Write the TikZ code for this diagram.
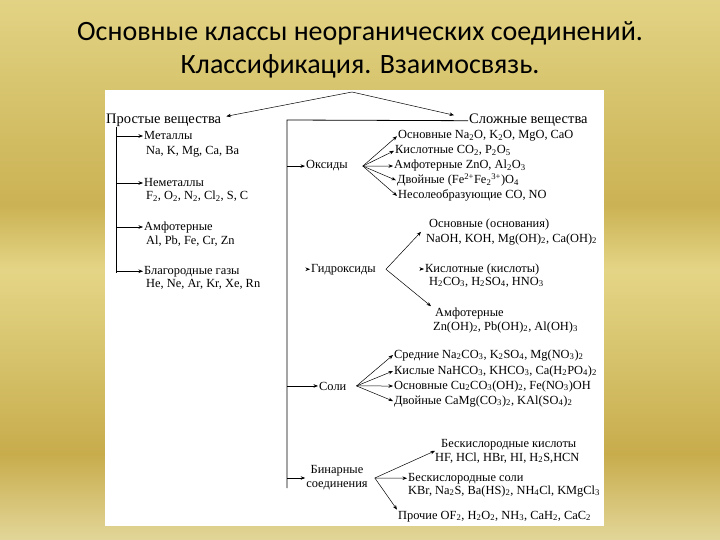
\documentclass[tikz,border=0pt]{standalone}
\usepackage{fontspec}
\setmainfont{Liberation Serif}
\newfontfamily\titlefont{Carlito}
\usetikzlibrary{arrows.meta,positioning}

\newcommand\ix[1]{\textsubscript{#1}}
\newcommand\ux[1]{\textsuperscript{#1}}

\definecolor{goldA}{RGB}{226,214,152}
\definecolor{goldB}{RGB}{200,172,76}
\definecolor{goldC}{RGB}{214,195,108}
\definecolor{goldD}{RGB}{228,213,134}
\definecolor{goldE}{RGB}{203,178,84}
\definecolor{goldF}{RGB}{226,211,132}
\pgfdeclareverticalshading{goldbg}{100bp}{color(0bp)=(goldA); color(25bp)=(goldA);
  color(33bp)=(goldB); color(42bp)=(goldC); color(50bp)=(goldD); color(56bp)=(goldE);
  color(66bp)=(goldC); color(75bp)=(goldF); color(100bp)=(goldF)}

\tikzset{
  lbl/.style={anchor=base west, inner sep=1pt, font=\fontsize{12.4}{14}\selectfont},
  head/.style={anchor=base west, inner sep=1pt, font=\fontsize{14.5}{16}\selectfont},
  ttl/.style={font=\titlefont\fontsize{28}{32}\selectfont},
  arr/.style={-{Stealth[length=4.5pt,width=3.5pt]}, line width=0.5pt},
  trunk/.style={line width=0.8pt},
}

\begin{document}
\begin{tikzpicture}[x=1pt,y=-1pt]
    \useasboundingbox (0,0) rectangle (720,540);
    \shade[shading=goldbg] (0,0) rectangle (720,540);
    \fill[white] (105,90) rectangle (604,526);

    % title
    \node[ttl] (title1) at (360,33) {Основные классы неорганических соединений.};
    \node[ttl] (title2) at (360,66) {Классификация. Взаимосвязь.};

    % two kinds of substances
    \coordinate (apex) at (352,92);
    \node[head] (simple) at (105,124) {Простые вещества};
    \node[head] (complex) at (468,124) {Сложные вещества};
    \draw[arr] (apex) -- ([xshift=4pt,yshift=-3pt]simple.north east);
    \draw[arr] (apex) -- ([xshift=-14pt,yshift=-2pt]complex.north west);

    % simple substances
    \node[lbl] (met) at (143,140) {Металлы};
    \node[lbl] (met2) at (145,155) {Na, K, Mg, Ca, Ba};
    \node[lbl] (nonmet) at (143,187) {Неметаллы};
    \node[lbl] (nonmet2) at (145,200) {F\ix{2}, O\ix{2}, N\ix{2}, Cl\ix{2}, S, C};
    \node[lbl] (amph) at (143,230) {Амфотерные};
    \node[lbl] (amph2) at (145,244) {Al, Pb, Fe, Cr, Zn};
    \node[lbl] (noble) at (143,274) {Благородные газы};
    \node[lbl] (noble2) at (145,287) {He, Ne, Ar, Kr, Xe, Rn};

    \coordinate (ltop) at (116,127);
    \draw[trunk] (ltop) -- ([yshift=-2pt]ltop |- noble.west);
    \foreach \n in {met,nonmet,amph,noble}
        \draw[arr] (ltop |- \n.west) -- (\n.west);

    % complex substances
    \node[lbl] (oxd) at (305,169) {Оксиды};
    \node[lbl] (hyd) at (310,272) {Гидроксиды};
    \node[lbl] (salt) at (318,390) {Соли};
    \node[lbl, align=center, anchor=center] (bin) at (337,478) {Бинарные\\соединения};

    \coordinate (rtop) at (287,120);
    \draw[trunk] (complex.west) -- (rtop) -- (287,488);
    \foreach \n in {oxd,salt,bin}
        \draw[arr] (rtop |- \n.west) -- (\n.west);
    \draw[arr] ([xshift=-3pt]hyd.west) -- (hyd.west);

    % oxides
    \node[lbl] (ox1) at (397,139) {Основные Na\ix{2}O, K\ix{2}O, MgO, CaO};
    \node[lbl] (ox2) at (394,154) {Кислотные CO\ix{2}, P\ix{2}O\ix{5}};
    \node[lbl] (ox3) at (393,169) {Амфотерные ZnO, Al\ix{2}O\ix{3}};
    \node[lbl] (ox4) at (396,184) {Двойные (Fe\ux{2+}Fe\ix{2}\ux{3+})O\ix{4}};
    \node[lbl] (ox5) at (397,199) {Несолеобразующие CO, NO};
    \coordinate (oxf) at ([xshift=14pt]oxd.east);
    \foreach \n in {ox1,ox2,ox3,ox4,ox5}
        \draw[arr] (oxf) -- (\n.west);

    % hydroxides
    \node[lbl] (hb1) at (428,228) {Основные (основания)};
    \node[lbl] (hb2) at (425,242) {NaOH, KOH, Mg(OH)\ix{2}, Ca(OH)\ix{2}};
    \node[lbl] (ha1) at (424,272) {Кислотные (кислоты)};
    \node[lbl] (ha2) at (428,285) {H\ix{2}CO\ix{3}, H\ix{2}SO\ix{4}, HNO\ix{3}};
    \node[lbl] (hm1) at (434,316) {Амфотерные};
    \node[lbl] (hm2) at (432,330) {Zn(OH)\ix{2}, Pb(OH)\ix{2}, Al(OH)\ix{3}};
    \coordinate (hyf) at ([xshift=9pt]hyd.east);
    \draw[arr] (hyf) -- ([xshift=-7pt]hb1.south west);
    \draw[arr] (hyf) -- ([xshift=-3pt]hm1.north west);
    \draw[arr] ([xshift=-4pt]ha1.west) -- (ha1.west);

    % salts
    \node[lbl] (s1) at (393,358) {Средние Na\ix{2}CO\ix{3}, K\ix{2}SO\ix{4}, Mg(NO\ix{3})\ix{2}};
    \node[lbl] (s2) at (393,374) {Кислые NaHCO\ix{3}, KHCO\ix{3}, Ca(H\ix{2}PO\ix{4})\ix{2}};
    \node[lbl] (s3) at (393,389) {Основные Cu\ix{2}CO\ix{3}(OH)\ix{2}, Fe(NO\ix{3})OH};
    \node[lbl] (s4) at (393,404) {Двойные CaMg(CO\ix{3})\ix{2}, KAl(SO\ix{4})\ix{2}};
    \coordinate (slf) at ([xshift=9pt]salt.east);
    \foreach \n in {s1,s2,s3,s4}
        \draw[arr] (slf) -- (\n.west);

    % binary compounds
    \node[lbl] (bk1) at (440,447) {Бескислородные кислоты};
    \node[lbl] (bk2) at (434,461) {HF, HCl, HBr, HI, H\ix{2}S,HCN};
    \node[lbl] (bs1) at (407,481) {Бескислородные соли};
    \node[lbl] (bs2) at (407,494) {KBr, Na\ix{2}S, Ba(HS)\ix{2}, NH\ix{4}Cl, KMgCl\ix{3}};
    \node[lbl] (pr) at (397,519) {Прочие OF\ix{2}, H\ix{2}O\ix{2}, NH\ix{3}, CaH\ix{2}, CaC\ix{2}};
    \coordinate (bnf) at ([xshift=6pt]bin.east);
    \draw[arr] (bnf) -- ([xshift=-5pt]bk1.south west);
    \draw[arr] (bnf) -- (bs1.west);
    \draw[arr] (bnf) -- (pr.north west);
\end{tikzpicture}
\end{document}
